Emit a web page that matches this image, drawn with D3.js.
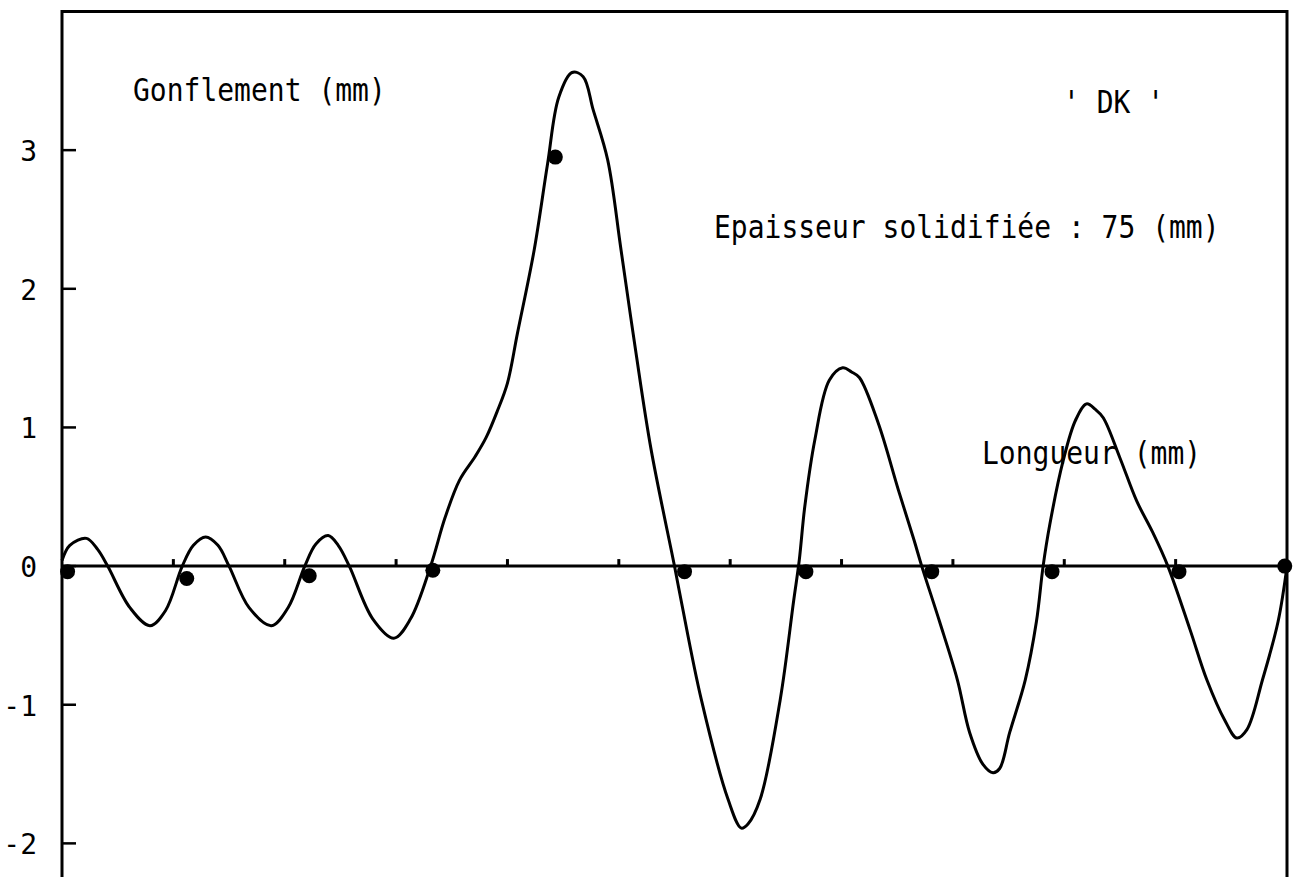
<!DOCTYPE html>
<html>
<head>
<meta charset="utf-8">
<script src="https://cdn.jsdelivr.net/npm/d3@7"></script>
<style>
body { margin:0; background:#fff; }
text { font-family:"DejaVu Sans Mono", monospace; fill:#000; }
</style>
</head>
<body>
<svg width="1295" height="877"></svg>
<script>
// longueur (mm) / gonflement (mm)
var longueur = [0,7,22,32,41,61,79,93,108,118,129,140,150,168,188,203,218,228,239,248,258,279,298,313,331,344,357,371,381,391,400,409,424,436,446,458,468,477,490,502,515,529,550,556,574,598,610,616,627,645,657,662,667,676,689,701,709,716,733,751,765,772,788,804,815,827,836,842,851,865,875,881,887,899,910,920,928,935,950,965,979,993,1013,1028,1044,1055,1064,1078,1092,1100];
var gonflement = [0.04,0.15,0.2,0.12,0,-0.3,-0.43,-0.32,0,0.15,0.21,0.15,0,-0.3,-0.43,-0.3,0,0.16,0.22,0.15,0,-0.38,-0.52,-0.38,0,0.35,0.62,0.79,0.93,1.12,1.32,1.68,2.28,2.9,3.38,3.56,3.53,3.29,2.93,2.28,1.56,0.84,0,-0.25,-0.96,-1.68,-1.89,-1.86,-1.68,-0.96,-0.25,0.04,0.43,0.91,1.34,1.43,1.4,1.36,1.03,0.55,0.19,0,-0.4,-0.82,-1.2,-1.43,-1.49,-1.46,-1.2,-0.82,-0.4,0,0.3,0.76,1.05,1.17,1.13,1.07,0.78,0.47,0.25,0,-0.46,-0.82,-1.11,-1.24,-1.18,-0.82,-0.4,0];
var mesureX = [5,112,222,333,443,559,668,781,889,1003,1098];
var mesureY = [-0.04,-0.09,-0.07,-0.03,2.95,-0.04,-0.04,-0.04,-0.04,-0.04,0];
var yTicks = [-2,-1,0,1,2,3];
var xTicks = [100,200,300,400,500,600,700,800,900,1000];

var x = d3.scaleLinear().domain([0,1100]).range([62,1287]);
var y = d3.scaleLinear().domain([-2.5,4]).range([912.7,11.5]);

var svg = d3.select("svg");

// frame
svg.append("path")
	.attr("fill","none").attr("stroke","black").attr("stroke-width",3)
	.attr("d","M"+x(0)+" 900 V"+y(4)+" H"+x(1100)+" V900");

// y ticks + labels
svg.selectAll().data(yTicks).enter().append("line")
	.attr("x1",x(0)).attr("x2",x(0)+14)
	.attr("y1",function(d){ return y(d) }).attr("y2",function(d){ return y(d) })
	.attr("stroke","black").attr("stroke-width",2.5);
svg.selectAll().data(yTicks).enter().append("text")
	.attr("x",37).attr("y",function(d){ return y(d)+11 })
	.attr("text-anchor","end")
	.style("font-size","28px")
	.text(function(d){ return d<0 ? "-"+(-d) : d });

// zero line with small ticks
svg.append("line")
	.attr("x1",x(0)).attr("x2",x(1100)).attr("y1",y(0)).attr("y2",y(0))
	.attr("stroke","black").attr("stroke-width",3);
svg.selectAll().data(xTicks).enter().append("line")
	.attr("x1",function(d){ return x(d) }).attr("x2",function(d){ return x(d) })
	.attr("y1",y(0)).attr("y2",y(0)-7)
	.attr("stroke","black").attr("stroke-width",3);

// curve
var line = d3.line()
	.x(function(d,i){ return x(longueur[i]) })
	.y(function(d){ return y(d) })
	.curve(d3.curveCatmullRom);
svg.append("path")
	.attr("fill","none").attr("stroke","black").attr("stroke-width",3)
	.attr("stroke-linejoin","round")
	.attr("d",line(gonflement));

// measured points
svg.selectAll().data(mesureY).enter().append("circle")
	.attr("cx",function(d,i){ return x(mesureX[i]) })
	.attr("cy",function(d){ return y(d) })
	.attr("r",7.5).attr("fill","black");

// labels
function label(tx,ty,s){
	svg.append("text")
		.attr("transform","translate("+tx+","+ty+") scale(1,1.12)")
		.style("font-size","28px").text(s);
}
label(133,101,"Gonflement (mm)");
label(1063,113,"' DK '");
label(714,238,"Epaisseur solidifiée : 75 (mm)");
label(982,464,"Longueur (mm)");
</script>
</body>
</html>
